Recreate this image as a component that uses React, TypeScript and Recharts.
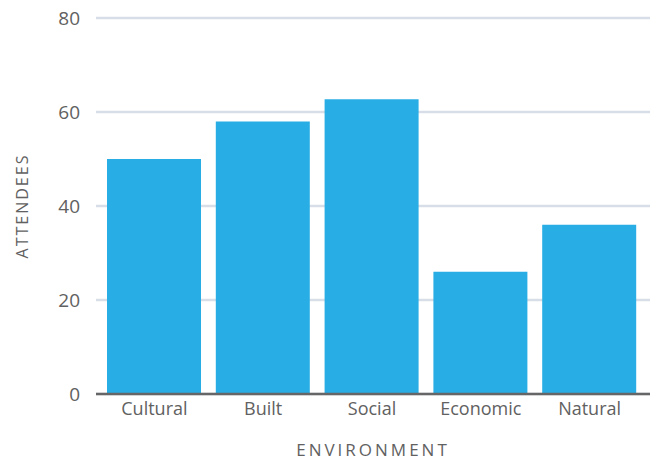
import { Bar, BarChart, CartesianGrid, Label, XAxis, YAxis } from "recharts";

const categories = ["Cultural", "Built", "Social", "Economic", "Natural"];
const attendees = [50, 58, 62.7, 26, 36];
const yTicks = [0, 20, 40, 60, 80];

const data = categories.map((name, i) => ({ name, attendees: attendees[i] }));

const font = "'Open Sans', 'Noto Sans', sans-serif";
const textColor = "#616161";

export default function App() {
  return (
    <div style={{ position: "absolute", left: 0, top: 0 }}>
      <BarChart
        width={651}
        height={461}
        data={data}
        margin={{ top: 18, right: 1, bottom: 0, left: 0 }}
      >
        <CartesianGrid vertical={false} stroke="#d8dee7" strokeWidth={2.5} />
        <XAxis
          dataKey="name"
          height={67}
          padding={{ left: 4, right: 6 }}
          tick={{ fill: textColor, fontSize: 18, fontFamily: font }}
          tickLine={false}
          tickSize={0}
          tickMargin={8}
          axisLine={{ stroke: "#666666", strokeWidth: 2.5 }}
        >
          <Label
            value="ENVIRONMENT"
            position="insideBottom"
            offset={5}
            style={{ fill: textColor, fontSize: 17, fontFamily: font, letterSpacing: 3 }}
          />
        </XAxis>
        <YAxis
          width={96}
          domain={[0, 80]}
          ticks={yTicks}
          tick={{ fill: textColor, fontSize: 19, fontFamily: font }}
          tickLine={false}
          axisLine={false}
          tickSize={0}
          tickMargin={16}
        >
          <Label
            value="ATTENDEES"
            angle={-90}
            position="insideLeft"
            offset={22}
            style={{ fill: textColor, fontSize: 16, fontFamily: font, letterSpacing: 2, textAnchor: "middle" }}
          />
        </YAxis>
        <Bar dataKey="attendees" fill="#28aee5" barSize={94} isAnimationActive={false} />
      </BarChart>
    </div>
  );
}
